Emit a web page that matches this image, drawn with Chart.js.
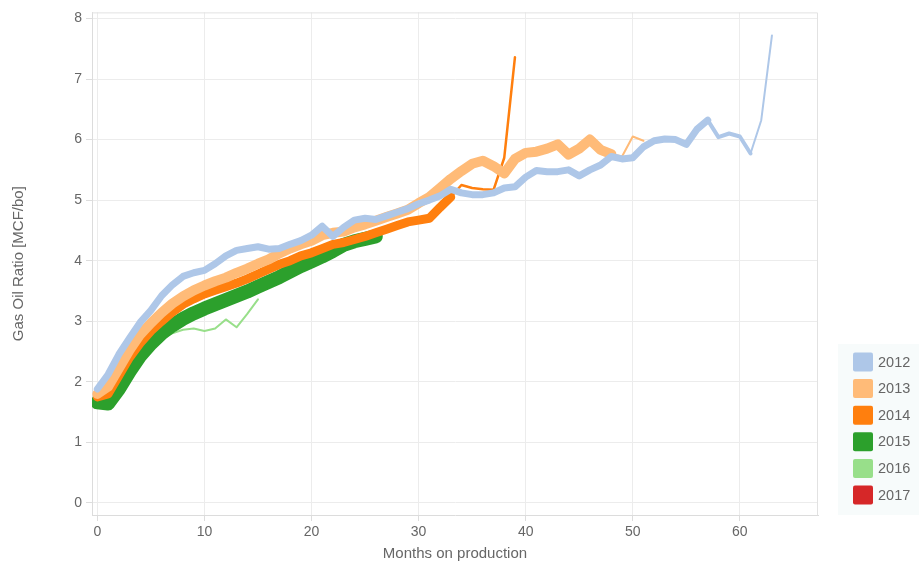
<!DOCTYPE html>
<html>
<head>
<meta charset="utf-8">
<script src="https://cdn.jsdelivr.net/npm/chart.js@4/dist/chart.umd.min.js"></script>
<style>
  html, body { margin: 0; padding: 0; background: #ffffff; }
  #wrap { width: 919px; height: 567px; position: relative; }
</style>
</head>
<body>
<div id="wrap"><canvas id="c" width="919" height="567"></canvas></div>
<script>
// ---- data ----
const years = ["2012", "2013", "2014", "2015", "2016", "2017"];

const gor2012 = [1.88, 2.12, 2.45, 2.72, 2.98, 3.18, 3.42, 3.6, 3.74, 3.8,
  3.84, 3.95, 4.08, 4.17, 4.2, 4.23, 4.19, 4.2, 4.27, 4.33,
  4.42, 4.57, 4.4, 4.55, 4.67, 4.7, 4.68, 4.74, 4.8, 4.86,
  4.94, 5.0, 5.07, 5.18, 5.12, 5.09, 5.09, 5.12, 5.2, 5.22,
  5.38, 5.49, 5.47, 5.47, 5.5, 5.4, 5.5, 5.58, 5.72, 5.68,
  5.7, 5.88, 5.98, 6.01, 6.0, 5.92, 6.17, 6.32, 6.04, 6.1,
  6.05, 5.77, 6.32, 7.72];

const gor2013 = [1.8, 1.92, 2.22, 2.52, 2.78, 2.97, 3.14, 3.29, 3.41, 3.51,
  3.59, 3.66, 3.72, 3.8, 3.87, 3.95, 4.02, 4.12, 4.2, 4.27,
  4.33, 4.42, 4.46, 4.48, 4.55, 4.6, 4.66, 4.72, 4.78, 4.84,
  4.95, 5.05, 5.2, 5.35, 5.48, 5.6, 5.65, 5.56, 5.44, 5.68,
  5.78, 5.8, 5.85, 5.92, 5.75, 5.85, 6.0, 5.83, 5.76, 5.72,
  6.05, 5.98];

const gor2014 = [1.75, 1.8, 2.1, 2.4, 2.64, 2.84, 3.0, 3.15, 3.28, 3.37,
  3.45, 3.51, 3.57, 3.63, 3.7, 3.78, 3.86, 3.94, 4.0, 4.08,
  4.13, 4.2, 4.27, 4.3, 4.35, 4.4, 4.46, 4.52, 4.58, 4.64,
  4.67, 4.7, 4.88, 5.05, 5.25, 5.2, 5.18, 5.17, 5.7, 7.36];

const gor2015 = [1.66, 1.64, 1.88, 2.17, 2.43, 2.63, 2.8, 2.93, 3.04, 3.13,
  3.21, 3.28, 3.35, 3.42, 3.49, 3.57, 3.65, 3.73, 3.82, 3.91,
  3.99, 4.07, 4.16, 4.26, 4.32, 4.36, 4.4];

const gor2016 = [1.65, 1.7, 1.95, 2.25, 2.45, 2.6, 2.72, 2.8, 2.86, 2.88,
  2.84, 2.88, 3.03, 2.9, 3.12, 3.36];

const gor2017 = [];

const xTicks = [0, 10, 20, 30, 40, 50, 60];
const yTicks = [0, 1, 2, 3, 4, 5, 6, 7, 8];

// ---- styling ----
const colors = ["#aec7e8", "#ffbb78", "#ff7f0e", "#2ca02c", "#98df8a", "#d62728"];
const series = [gor2012, gor2013, gor2014, gor2015, gor2016, gor2017];

// line width by month (wells thinning out over time)
function widthFor(i, m) {
  if (i === 0) return m >= 61 ? 2 : (m >= 57 ? 4 : 7);
  if (i === 1) return m >= 48 ? 2 : 10;
  if (i === 2) return m >= 33 ? 2.5 : 9;
  if (i === 3) return 14;
  return 2;
}

const datasets = series.map((vals, i) => ({
  label: years[i],
  data: vals.map((v, m) => ({ x: m, y: v })),
  borderColor: colors[i],
  backgroundColor: colors[i],
  borderWidth: widthFor(i, 0),
  borderJoinStyle: 'round',
  borderCapStyle: 'round',
  pointRadius: 0,
  pointHoverRadius: 0,
  tension: 0,
  fill: false,
  segment: {
    borderWidth: ctx => widthFor(i, ctx.p0.parsed.x)
  }
}));

const framePlugin = {
  id: 'frameAndLegend',
  afterDraw(chart) {
    const { ctx, chartArea: a } = chart;
    ctx.save();
    ctx.strokeStyle = '#e2e2e2';
    ctx.lineWidth = 1;
    ctx.beginPath();
    ctx.moveTo(a.left, a.top + 0.5);
    ctx.lineTo(a.right - 0.5, a.top + 0.5);
    ctx.lineTo(a.right - 0.5, a.bottom);
    ctx.stroke();

    // legend
    ctx.fillStyle = '#f7fbfb';
    ctx.fillRect(838, 344, 81, 171);
    ctx.font = '14.5px "Liberation Sans", Arial, sans-serif';
    ctx.textBaseline = 'middle';
    ctx.textAlign = 'left';
    chart.data.datasets.forEach((ds, i) => {
      const cy = 362 + i * 26.6;
      ctx.fillStyle = ds.borderColor;
      ctx.beginPath();
      if (ctx.roundRect) ctx.roundRect(853, cy - 9.5, 20, 19, 2);
      else ctx.rect(853, cy - 9.5, 20, 19);
      ctx.fill();
      ctx.fillStyle = '#666666';
      ctx.fillText(ds.label, 878, cy + 0.5);
    });
    ctx.restore();
  }
};

const tickFont = { family: '"Liberation Sans", Arial, sans-serif', size: 14 };
const titleFont = { family: '"Liberation Sans", Arial, sans-serif', size: 15 };

new Chart(document.getElementById('c'), {
  type: 'line',
  data: { datasets },
  options: {
    responsive: false,
    animation: false,
    events: [],
    layout: { padding: { top: 10, right: 101, left: 0, bottom: 0 } },
    plugins: {
      legend: { display: false },
      tooltip: { enabled: false }
    },
    scales: {
      x: {
        type: 'linear',
        min: -0.5,
        max: 67.3,
        afterBuildTicks: ax => { ax.ticks = xTicks.map(v => ({ value: v })); },
        afterFit: ax => { ax.height = 52; },
        ticks: { font: tickFont, color: '#666666', padding: 3 },
        grid: { color: '#ececec', tickLength: 6, tickColor: '#dddddd' },
        border: { color: '#dcdcdc' },
        title: { display: true, text: 'Months on production', font: titleFont, color: '#666666', padding: { top: 0, bottom: 4 } }
      },
      y: {
        type: 'linear',
        min: -0.2,
        max: 8.1,
        afterBuildTicks: ax => { ax.ticks = yTicks.map(v => ({ value: v })); },
        afterFit: ax => { ax.width = 92; },
        ticks: { font: tickFont, color: '#666666', padding: 4 },
        grid: { color: '#ececec', tickLength: 6, tickColor: '#dddddd' },
        border: { color: '#dcdcdc' },
        title: { display: true, text: 'Gas Oil Ratio [MCF/bo]', font: titleFont, color: '#666666', padding: { top: 10, bottom: 0 } }
      }
    }
  },
  plugins: [framePlugin]
});
</script>
</body>
</html>
